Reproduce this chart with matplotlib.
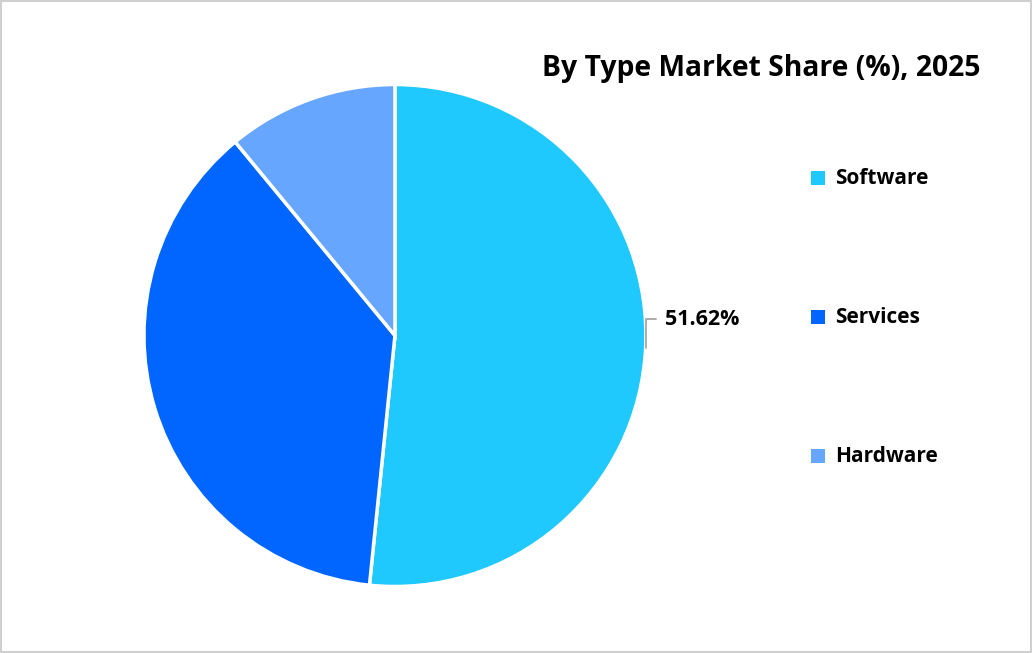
import matplotlib.pyplot as plt
import numpy as np
from matplotlib.patches import Rectangle

labels = ["Software", "Services", "Hardware"]
shares = [51.62, 37.40, 10.98]
colors = ["#1FC9FD", "#0066FF", "#66A6FF"]

plt.rcParams['font.family'] = ['Open Sans', 'DejaVu Sans']

fig = plt.figure(figsize=(10.32, 6.53), dpi=100)
fig.patches.append(Rectangle((0.001, 0.001), 0.998, 0.997, transform=fig.transFigure,
                             fill=False, edgecolor="#d0d0d0", linewidth=1.5))

ax = fig.add_axes([0.1395, 0.1018, 0.4864, 0.7688])
wedges, _ = ax.pie(shares, colors=colors, startangle=90, counterclock=False,
                   wedgeprops=dict(edgecolor="white", linewidth=2.5))
ax.set_xlim(-1, 1)
ax.set_ylim(-1, 1)

# label only the largest slice
w = wedges[0]
mid = np.deg2rad((w.theta1 + w.theta2) / 2)
px, py = np.cos(mid), np.sin(mid)
ax.annotate(f"{shares[0]:.2f}%", xy=(px, py), xytext=(1.075, 0.065),
            fontsize=15.5, fontweight="bold", va="center", ha="left",
            annotation_clip=False,
            arrowprops=dict(arrowstyle="-", color="#a6a6a6", lw=1.3,
                            shrinkA=4, shrinkB=0,
                            connectionstyle="angle,angleA=180,angleB=90,rad=0"))

fig.text(0.950, 0.895, "By Type Market Share (%), 2025", ha="right", va="center",
         fontsize=20.3, fontweight="bold")

# legend drawn by hand to match the wide row spacing
for i, (lab, col) in enumerate(zip(labels, colors)):
    y = 0.727 - i * 0.2129
    fig.patches.append(Rectangle((0.786, y - 0.0107), 0.0136, 0.0214,
                                 transform=fig.transFigure, facecolor=col, edgecolor="none"))
    fig.text(0.809, y, lab, ha="left", va="center", fontsize=15, fontweight="bold")

fig.savefig("out.png", dpi=100)
